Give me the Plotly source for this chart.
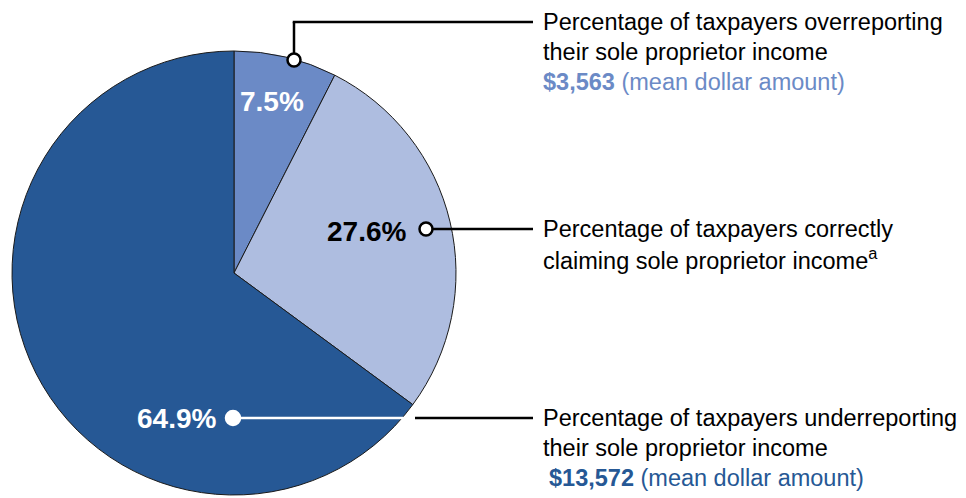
import plotly.graph_objects as go

# Share of taxpayers by how they reported sole proprietor income
categories = ["Overreporting", "Correctly claiming", "Underreporting"]
shares = [7.5, 27.6, 64.9]
mean_amounts = [3563, None, 13572]
descriptions = [
    ["Percentage of taxpayers overreporting", "their sole proprietor income"],
    ["Percentage of taxpayers correctly", "claiming sole proprietor income<sup>a</sup>"],
    ["Percentage of taxpayers underreporting", "their sole proprietor income"],
]

slice_colors = ["#6B8AC6", "#AEBDE0", "#265895"]
label_colors = ["white", "black", "white"]
amount_colors = ["#6B8AC6", None, "#265895"]

W, H = 966, 498
# pie circle in pixels: centre and radius
cx, cy, r = 234, 273, 222

fig = go.Figure()

fig.add_trace(go.Pie(
    labels=categories,
    values=shares,
    sort=False,
    direction="clockwise",
    rotation=0,
    marker=dict(colors=slice_colors, line=dict(color="#1a1a1a", width=1)),
    textinfo="none",
    hoverinfo="label+percent",
    showlegend=False,
    domain=dict(x=[(cx - r) / W, (cx + r) / W], y=[1 - (cy + r) / H, 1 - (cy - r) / H]),
))

# pixel-space overlay for callouts
fig.update_layout(
    width=W, height=H,
    margin=dict(l=0, r=0, t=0, b=0),
    paper_bgcolor="white", plot_bgcolor="rgba(0,0,0,0)",
    xaxis=dict(range=[0, W], visible=False, fixedrange=True),
    yaxis=dict(range=[H, 0], visible=False, fixedrange=True),
    showlegend=False,
)

pct_font = "Liberation Sans, Arial"
txt_font = "Liberation Sans, Arial, Helvetica"

# percentage labels inside slices
pct_pos = [(272, 101), (366, 231), (176, 418)]
for v, (x, y), c in zip(shares, pct_pos, label_colors):
    fig.add_annotation(x=x, y=y, xref="x", yref="y", text=f"<b>{v:.1f}%</b>",
                       showarrow=False, font=dict(family=pct_font, size=28, color=c),
                       xanchor="center", yanchor="middle")

# leader lines (drawn above the pie)
def seg(x0, y0, x1, y1, color):
    fig.add_shape(type="line", x0=x0, y0=y0, x1=x1, y1=y1, xref="x", yref="y",
                  line=dict(color=color, width=2.5), layer="above")

seg(294, 60, 294, 22, "black")
seg(292.75, 22, 533, 22, "black")
seg(426, 229, 533, 229, "black")
seg(233, 418, 415, 418, "white")
seg(415, 418, 533, 418, "black")

# endpoint dots
def dot(x, y, rad, fill, edge):
    fig.add_shape(type="circle", x0=x - rad, y0=y - rad, x1=x + rad, y1=y + rad,
                  xref="x", yref="y", fillcolor=fill,
                  line=dict(color=edge, width=2.5), layer="above")

dot(294, 60, 6.5, "white", "black")
dot(426, 229, 6.5, "white", "black")
dot(233, 418, 7, "white", "white")

# descriptive text blocks
text_x = 541
block_y = [22, 229, 418]
amount_dx = [0, 0, 6]
line_gap = 29.5
for desc, amt, acol, y0, dx in zip(descriptions, mean_amounts, amount_colors, block_y, amount_dx):
    for i, line in enumerate(desc):
        fig.add_annotation(x=text_x, y=y0 + i * line_gap, xref="x", yref="y", text=line,
                           showarrow=False, xanchor="left", yanchor="middle",
                           font=dict(family=txt_font, size=23.5, color="black"))
    if amt is not None:
        fig.add_annotation(x=text_x + dx, y=y0 + 2 * line_gap + 1, xref="x", yref="y",
                           text=f"<b>${amt:,}</b> (mean dollar amount)",
                           showarrow=False, xanchor="left", yanchor="middle",
                           font=dict(family=txt_font, size=23.5, color=acol))

fig.write_html("out.html")
